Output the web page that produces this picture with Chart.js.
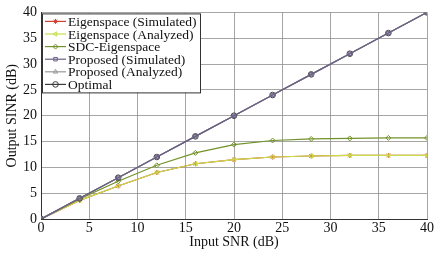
<!DOCTYPE html>
<html>
<head>
<meta charset="utf-8">
<script src="https://cdn.jsdelivr.net/npm/chart.js@4"></script>
<style>
  html, body { margin: 0; padding: 0; background: #fff; }
  #wrap { width: 438px; height: 256px; }
</style>
</head>
<body>
<div id="wrap"><canvas id="chart"></canvas></div>
<script>
const snr = [0, 4, 8, 12, 16, 20, 24, 28, 32, 36, 40];
const eigenSim = [0, 3.6, 6.4, 9.0, 10.7, 11.5, 12.0, 12.2, 12.3, 12.3, 12.3];
const eigenAna = [0, 3.6, 6.4, 9.0, 10.7, 11.5, 12.0, 12.2, 12.3, 12.3, 12.3];
const sdcEigen = [0, 3.9, 7.3, 10.4, 12.8, 14.4, 15.2, 15.5, 15.6, 15.7, 15.7];
const propSim = [0, 4, 8, 12, 16, 20, 24, 28, 32, 36, 40];
const propAna = [0, 4, 8, 12, 16, 20, 24, 28, 32, 36, 40];
const optimal = [0, 4, 8, 12, 16, 20, 24, 28, 32, 36, 40];
const seriesNames = ['Eigenspace (Simulated)', 'Eigenspace (Analyzed)', 'SDC-Eigenspace',
  'Proposed (Simulated)', 'Proposed (Analyzed)', 'Optimal'];

const font = "'Liberation Serif', 'Times New Roman', serif";

function pts(ys) { return snr.map((x, i) => ({ x: x, y: ys[i] })); }

// higher "order" is drawn first (underneath)
const datasets = [
  { label: seriesNames[0], data: pts(eigenSim), borderColor: '#d04030', pointStyle: 'star', radius: 2.5, order: 6 },
  { label: seriesNames[1], data: pts(eigenAna), borderColor: '#c8de48', pointStyle: 'triangle', rotation: -90, radius: 2.5, order: 5 },
  { label: seriesNames[2], data: pts(sdcEigen), borderColor: '#73922a', pointStyle: 'rectRot', radius: 2.5, order: 4 },
  { label: seriesNames[5], data: pts(optimal), borderColor: '#3a3a3a', pointStyle: 'circle', radius: 2.8, order: 3 },
  { label: seriesNames[4], data: pts(propAna), borderColor: '#9a9a9a', pointStyle: 'triangle', radius: 2.5, order: 2 },
  { label: seriesNames[3], data: pts(propSim), borderColor: '#6a5e86', pointStyle: 'rect', radius: 2.5, order: 1 }
].map(d => Object.assign({
  borderWidth: 1.2, backgroundColor: 'rgba(0,0,0,0)', pointBackgroundColor: 'rgba(0,0,0,0)',
  pointBorderWidth: 1, pointRadius: d.radius, pointBorderColor: d.borderColor, pointRotation: d.rotation || 0
}, d));

const legendPlugin = {
  id: 'boxLegend',
  afterDraw(chart) {
    const ctx = chart.ctx;
    const area = chart.chartArea;
    const x0 = area.left + 1, y0 = area.top + 1;
    const w = 158, h = 79;
    ctx.save();
    ctx.fillStyle = '#fff';
    ctx.fillRect(x0, y0, w, h);
    ctx.strokeStyle = '#333';
    ctx.lineWidth = 1;
    ctx.strokeRect(x0 + 0.5, y0 + 0.5, w, h);
    ctx.font = '13.5px ' + font;
    ctx.textBaseline = 'middle';
    seriesNames.forEach((name, i) => {
      const ds = datasets.find(d => d.label === name);
      const y = y0 + 8 + i * 12.6;
      ctx.strokeStyle = ds.borderColor;
      ctx.lineWidth = 1.2;
      ctx.beginPath();
      ctx.moveTo(x0 + 3, y);
      ctx.lineTo(x0 + 24, y);
      ctx.stroke();
      ctx.lineWidth = 1;
      ctx.fillStyle = 'rgba(0,0,0,0)';
      Chart.helpers.drawPoint(ctx, {
        pointStyle: ds.pointStyle, radius: ds.pointRadius, rotation: ds.pointRotation || 0, borderWidth: 1
      }, x0 + 13.5, y);
      ctx.fillStyle = '#111';
      ctx.fillText(name, x0 + 26, y + 1);
    });
    ctx.restore();
  }
};

new Chart(document.getElementById('chart'), {
  type: 'line',
  data: { datasets: datasets },
  plugins: [legendPlugin],
  options: {
    responsive: true,
    maintainAspectRatio: false,
    animation: false,
    layout: { padding: { top: 5, right: 11, left: 0, bottom: 0 } },
    plugins: { legend: { display: false }, tooltip: { enabled: false } },
    scales: {
      x: {
        type: 'linear', min: 0, max: 40,
        ticks: { stepSize: 5, color: '#111', font: { family: font, size: 14 }, padding: 1, maxRotation: 0 },
        grid: { color: '#8f8f8f', lineWidth: 0.8, drawTicks: false },
        border: { color: '#333', width: 1 },
        title: { display: true, text: 'Input SNR (dB)', color: '#111', font: { family: font, size: 14 }, padding: { top: 0, bottom: 5 } },
        afterFit(s) { s.height = 37; }
      },
      y: {
        min: 0, max: 40,
        ticks: { stepSize: 5, color: '#111', font: { family: font, size: 14 }, padding: 4 },
        grid: { color: '#8f8f8f', lineWidth: 0.8, drawTicks: false },
        border: { color: '#333', width: 1 },
        title: { display: true, text: 'Output SINR (dB)', color: '#111', font: { family: font, size: 14 }, padding: { top: 4, bottom: 0 } },
        afterFit(s) { s.width = 41; }
      }
    }
  }
});
</script>
</body>
</html>
